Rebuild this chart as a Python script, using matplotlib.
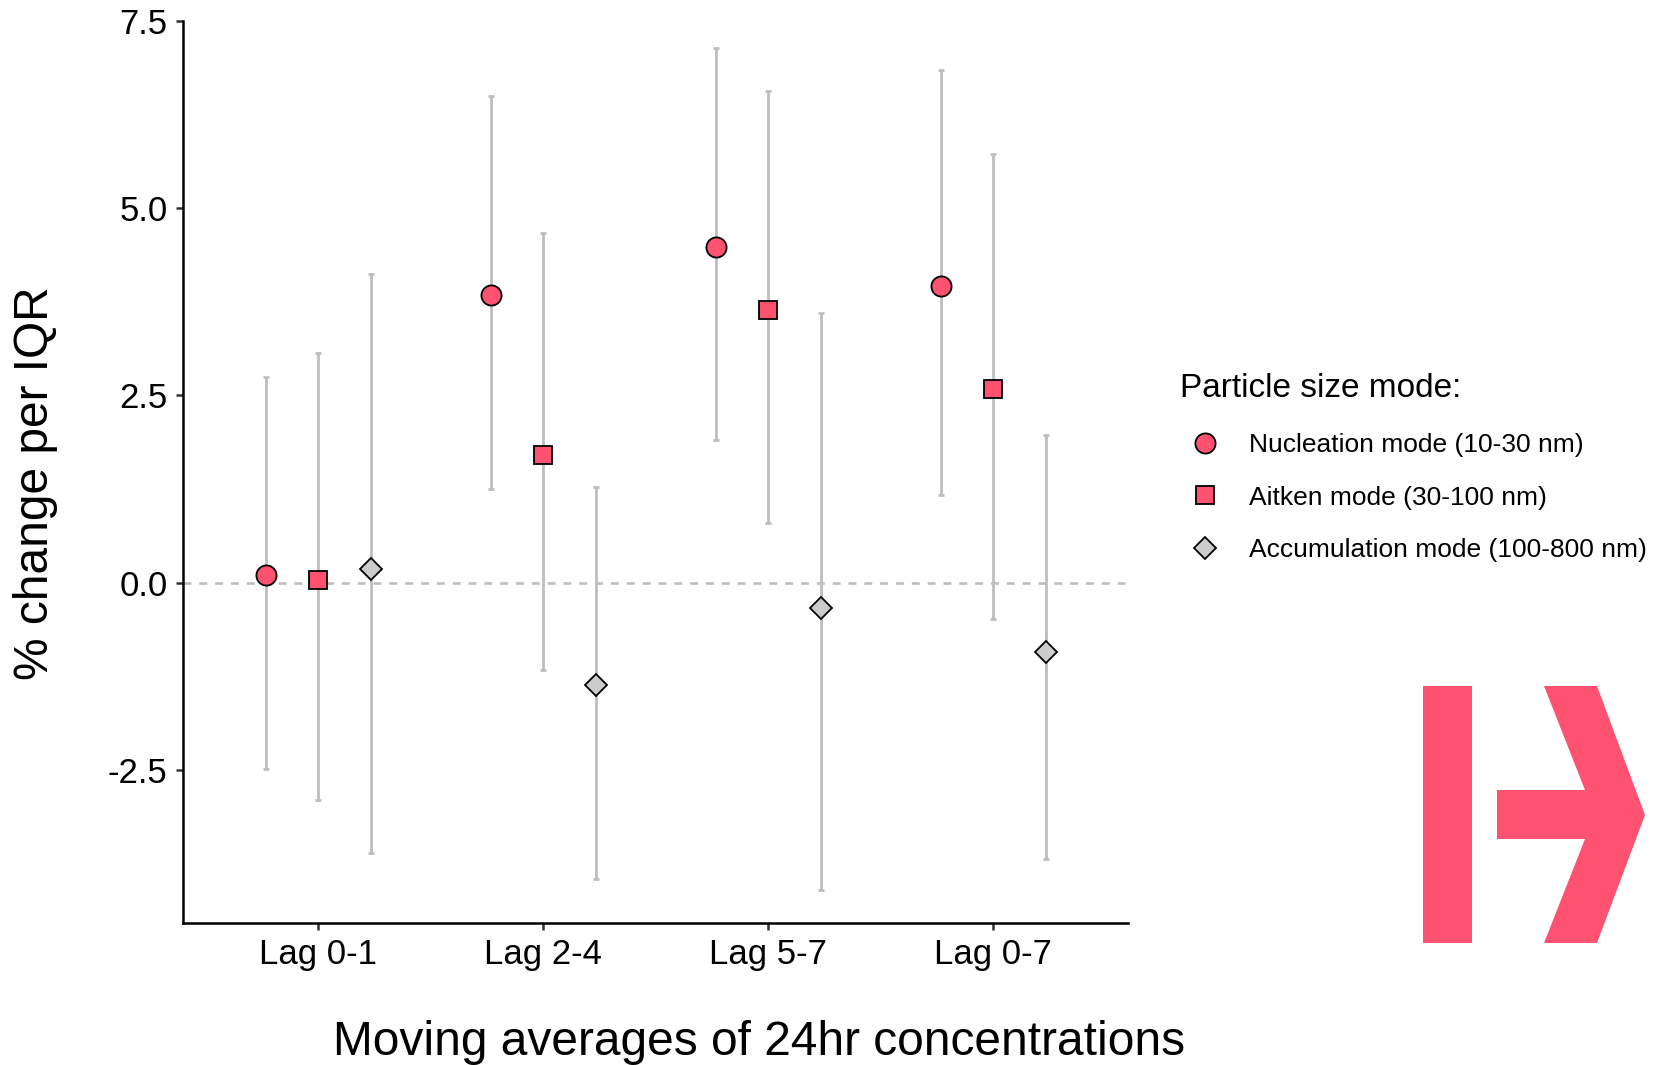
import matplotlib
matplotlib.use("Agg")
import matplotlib.pyplot as plt
from matplotlib.lines import Line2D
from matplotlib.patches import Polygon
import numpy as np

plt.rcParams['font.family'] = ['Liberation Sans', 'DejaVu Sans']

# Дані: оцінки та довірчі інтервали (% зміни на IQR)
lags = ["Lag 0-1", "Lag 2-4", "Lag 5-7", "Lag 0-7"]
modes = ["Nucleation mode (10-30 nm)", "Aitken mode (30-100 nm)",
         "Accumulation mode (100-800 nm)"]

nucleation_est = [0.10, 3.84, 4.48, 3.96]
nucleation_lo = [-2.48, 1.25, 1.90, 1.17]
nucleation_hi = [2.75, 6.50, 7.13, 6.84]

aitken_est = [0.04, 1.71, 3.64, 2.58]
aitken_lo = [-2.90, -1.17, 0.80, -0.48]
aitken_hi = [3.06, 4.67, 6.56, 5.72]

accum_est = [0.18, -1.37, -0.34, -0.92]
accum_lo = [-3.61, -3.95, -4.10, -3.69]
accum_hi = [4.12, 1.28, 3.60, 1.97]

y_ticks = [-2.5, 0.0, 2.5, 5.0, 7.5]

pink = "#FF5271"
series = [
    (nucleation_est, nucleation_lo, nucleation_hi, "o", pink, 14.5),
    (aitken_est, aitken_lo, aitken_hi, "s", pink, 12.5),
    (accum_est, accum_lo, accum_hi, "D", "#CCCCCC", 11.5),
]

fig = plt.figure(figsize=(16.55, 10.65), dpi=100)
ax = fig.add_axes([183/1655, 1 - 923/1065, (1128-183)/1655, (923-20.7)/1065])

ax.axhline(0, color="#BEBEBE", lw=1.9, dashes=(3, 3), zorder=1)

x = np.arange(1, len(lags) + 1)
dodge = 0.7 / 3
handles = []
for i, (est, lo, hi, mk, col, ms) in enumerate(series):
    xi = x + (i - 1) * dodge
    est = np.array(est)
    err = [est - np.array(lo), np.array(hi) - est]
    ax.errorbar(xi, est, yerr=err, fmt="none", ecolor="#BEBEBE",
                elinewidth=2.0, capsize=2.5, capthick=2.0, zorder=2)
    ax.plot(xi, est, ls="none", marker=mk, ms=ms, mfc=col, mec="black",
            mew=1.3, zorder=3)
    handles.append(Line2D([], [], ls="none", marker=mk, ms=ms, mfc=col,
                          mec="black", mew=1.3))

ax.set_xlim(0.4, 4.6)
ax.set_ylim(-4.54, 7.5)
ax.set_xticks(x)
ax.set_xticklabels(lags)
ax.set_yticks(y_ticks)
ax.set_yticklabels([f"{v:.1f}" for v in y_ticks])

for s in ["top", "right"]:
    ax.spines[s].set_visible(False)
for s in ["left", "bottom"]:
    ax.spines[s].set_linewidth(1.8)
    ax.spines[s].set_color("black")
ax.tick_params(length=5, width=1.8, color="#333333", labelsize=25,
               labelcolor="black")
ax.tick_params(axis="y", pad=6)
ax.tick_params(axis="x", pad=6)

fig.text(759/1655, 1 - 1055/1065, "Moving averages of 24hr concentrations",
         fontsize=34.5, ha="center", va="baseline")
fig.text(36/1655, 1 - 483/1065, "% change per IQR", fontsize=34.5,
         rotation=90, ha="center", va="center")

leg = fig.legend(handles, modes, loc="upper left",
                 bbox_to_anchor=(1180/1655, 1 - 373/1065), frameon=False,
                 title="Particle size mode:", title_fontsize=24,
                 fontsize=19, borderpad=0, borderaxespad=0, handlelength=1.9,
                 handletextpad=0.7, labelspacing=1.09, alignment="left")

# логотип
logo_bar = [(1423, 686), (1472, 686), (1472, 943), (1423, 943)]
logo_arrow = [(1544, 686), (1597, 686), (1645, 815), (1597, 943), (1544, 943),
              (1585, 839), (1497, 839), (1497, 790), (1585, 790)]
for pts in (logo_bar, logo_arrow):
    fp = [(px / 1655, 1 - py / 1065) for px, py in pts]
    fig.patches.append(Polygon(fp, closed=True, transform=fig.transFigure,
                               facecolor=pink, edgecolor="none"))

fig.savefig("out.png", dpi=100)
